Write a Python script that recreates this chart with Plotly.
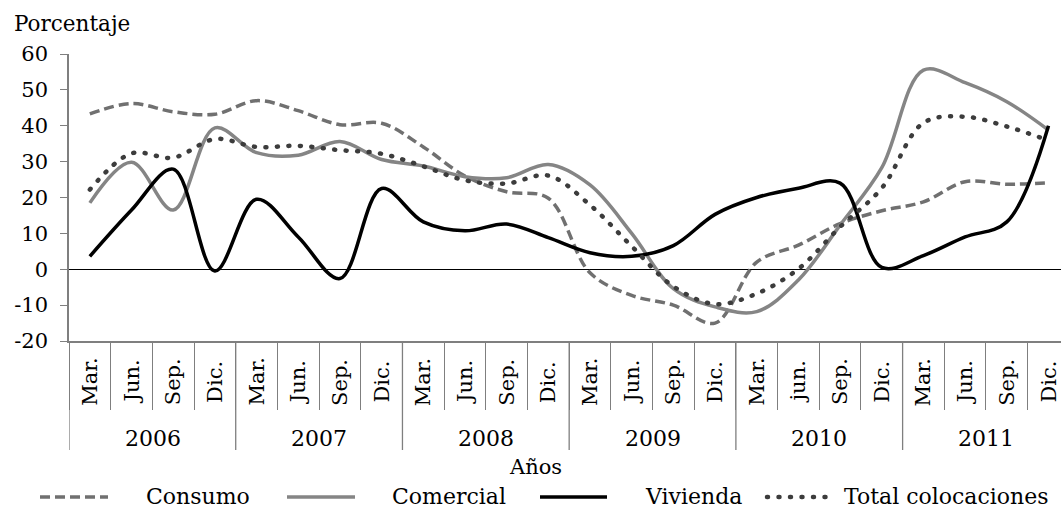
import plotly.graph_objects as go

anios = ["2006", "2007", "2008", "2009", "2010", "2011"]
trimestres = [
    "Mar.", "Jun.", "Sep.", "Dic.",
    "Mar.", "Jun.", "Sep.", "Dic.",
    "Mar.", "Jun.", "Sep.", "Dic.",
    "Mar.", "Jun.", "Sep.", "Dic.",
    "Mar.", "jun.", "Sep.", "Dic.",
    "Mar.", "Jun.", "Sep.", "Dic.",
]
anio_periodo = [a for a in anios for _ in range(4)]
periodos = [f"{t} {a}" for t, a in zip(trimestres, anio_periodo)]

consumo = [43.3, 46.2, 43.9, 43.2, 47.0, 44.2, 40.3, 40.7, 34.1, 26.0, 21.6, 19.8,
           -1.0, -7.3, -10.0, -15.0, 2.0, 6.7, 12.7, 16.3, 18.8, 24.4, 23.7, 24.1]
comercial = [18.5, 29.8, 16.5, 39.4, 32.5, 31.8, 35.6, 30.6, 28.8, 25.8, 25.5, 29.2,
             23.5, 10.0, -5.4, -10.5, -11.8, -3.0, 12.3, 28.3, 55.5, 52.0, 46.7, 38.8]
vivienda = [3.6, 16.5, 27.9, -0.5, 19.5, 9.0, -2.6, 22.5, 13.2, 10.7, 12.6, 8.8,
            4.6, 3.6, 6.6, 15.3, 20.0, 22.6, 24.0, 0.5, 3.8, 9.0, 13.2, 40.0]
total = [22.2, 32.3, 31.1, 36.3, 34.1, 34.4, 33.2, 32.2, 28.7, 24.8, 23.9, 26.1,
         17.9, 6.4, -4.8, -9.7, -6.8, 0.1, 11.8, 22.6, 40.8, 42.5, 39.8, 35.9]

y_ticks = [-20, -10, 0, 10, 20, 30, 40, 50, 60]
y_ticktext = ["-20", "-10", "0", "10", "20", "30", "40", "50", "60"]

FONT = "DejaVu Serif"
series = [
    ("Consumo", consumo, "#707070", "10px,5px", 3.5),
    ("Comercial", comercial, "#858585", "solid", 3.5),
    ("Vivienda", vivienda, "black", "solid", 3.5),
    ("Total colocaciones", total, "#3c3c3c", "1px,10.5px", 4.5),
]

fig = go.Figure()
for nombre, valores, color, dash, ancho in series:
    fig.add_trace(go.Scatter(
        x=periodos, y=valores, name=nombre, mode="lines",
        line=dict(color=color, dash=dash, width=ancho, shape="spline", smoothing=1),
        showlegend=False,
    ))

# leyenda dibujada a mano (muestras de línea largas como en el original)
plot_w = 992
leyenda = [(40, 108, 144), (287, 355, 390), (540, 607, 643), (767, 830, 842)]
for (x0, x1, xt), (nombre, _, color, dash, ancho) in zip(leyenda, series):
    fig.add_shape(type="line", xref="paper", yref="paper",
                  x0=(x0 - 69) / plot_w, x1=(x1 - 69) / plot_w,
                  y0=-156 / 287, y1=-156 / 287,
                  line=dict(color=color, dash=dash, width=ancho))
    fig.add_annotation(text=nombre, xref="paper", yref="paper",
                       x=(xt - 69) / plot_w, y=0, yshift=-155,
                       xanchor="left", yanchor="middle", showarrow=False,
                       font=dict(family=FONT, size=22, color="black"))

# etiquetas de trimestre
for p, t in zip(periodos, trimestres):
    fig.add_annotation(text=t, x=p, xref="x", yref="paper", y=0, yshift=-41,
                       textangle=-90, xanchor="center", yanchor="middle",
                       showarrow=False, font=dict(family=FONT, size=21, color="black"))

# años y separadores
for k, a in enumerate(anios):
    fig.add_annotation(text=a, x=periodos[4 * k + 1], xref="x", xshift=21,
                       yref="paper", y=0, yshift=-97, showarrow=False,
                       xanchor="center", yanchor="middle",
                       font=dict(family=FONT, size=22, color="black"))
    fig.add_shape(type="line", xref="x", yref="paper",
                  x0=4 * k - 0.5, x1=4 * k - 0.5, y0=0, y1=-109 / 287,
                  line=dict(color="#7f7f7f", width=1.3))

fig.add_annotation(text="Años", xref="paper", yref="paper", x=(535 - 69) / plot_w,
                   y=0, yshift=-126, xanchor="center", yanchor="middle",
                   showarrow=False, font=dict(family=FONT, size=21, color="black"))
fig.add_annotation(text="Porcentaje", xref="paper", yref="paper", x=(12 - 69) / plot_w,
                   y=1, yshift=31, xanchor="left", yanchor="middle",
                   showarrow=False, font=dict(family=FONT, size=21.5, color="black"))

fig.update_layout(
    width=1061, height=512, autosize=False,
    margin=dict(l=69, r=0, t=54, b=171),
    plot_bgcolor="white", paper_bgcolor="white",
    font=dict(family=FONT, size=21, color="black"),
    xaxis=dict(
        type="category", range=[-0.5, 23.3], showgrid=False, zeroline=False,
        showline=True, linecolor="#7f7f7f", linewidth=1.5,
        ticks="outside", tickson="boundaries", ticklen=67, tickwidth=1.3,
        tickcolor="#7f7f7f", showticklabels=False,
    ),
    yaxis=dict(
        range=[-20, 60], tickvals=y_ticks, ticktext=y_ticktext,
        showgrid=False, showline=True, linecolor="#7f7f7f", linewidth=1.5,
        ticks="outside", ticklen=7, tickwidth=1.3, tickcolor="#7f7f7f",
        ticklabelstandoff=8,
        zeroline=True, zerolinecolor="black", zerolinewidth=1.3,
        tickfont=dict(family=FONT, size=21, color="black"),
    ),
)

# sin margen de página y puntos redondos para la serie punteada
post = """
document.body.style.margin = '0';
document.querySelectorAll('path').forEach(function(p){
  if ((p.style.strokeDasharray || '').indexOf('10.5') >= 0) {
    p.style.strokeLinecap = 'round';
  }
});
"""
fig.write_html("out.html", post_script=post, config={"displayModeBar": False})
